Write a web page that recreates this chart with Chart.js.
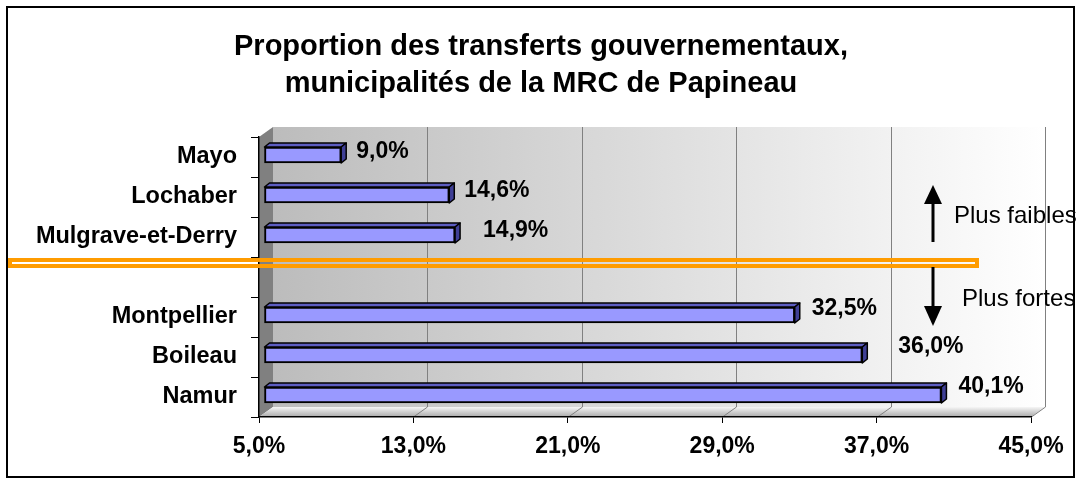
<!DOCTYPE html>
<html>
<head>
<meta charset="utf-8">
<script src="https://cdn.jsdelivr.net/npm/chart.js@4.4.1/dist/chart.umd.min.js"></script>
<style>
  html, body { margin: 0; padding: 0; background: #fff; }
</style>
</head>
<body>
<canvas id="chart" width="1081" height="483"></canvas>
<script>
const categories = ['Mayo', 'Lochaber', 'Mulgrave-et-Derry', '', 'Montpellier', 'Boileau', 'Namur'];
const values = [9.0, 14.6, 14.9, null, 32.5, 36.0, 40.1];
const xTicks = [5, 13, 21, 29, 37, 45];
const titleLines = ['Proportion des transferts gouvernementaux,', 'municipalités de la MRC de Papineau'];

const FONT = '"Liberation Sans", Arial, sans-serif';

// fake 3D depth of the walls and of the bars
const WALL_DX = 14, WALL_DY = 10;
const BAR_SHIFT_X = 5, BAR_SHIFT_Y = -2;
const BAR_DX = 5, BAR_DY = 4;

// small nudges so the value labels sit where Excel put them
const labelNudgeX = [0, 0, 13, 0, 2, 21, 2];
const labelNudgeY = [0, -1, -1, 0, -3, -5, -5];

function fmt(v) {
    return v.toFixed(1).replace('.', ',') + '%';
}

const excel3d = {
    id: 'excel3d',
    beforeDraw(chart) {
        const { ctx, chartArea: a, scales: { x } } = chart;
        ctx.save();

        // title
        ctx.fillStyle = '#000';
        ctx.font = 'bold 29px ' + FONT;
        ctx.textAlign = 'center';
        ctx.textBaseline = 'middle';
        ctx.fillText(titleLines[0], 541, 47);
        ctx.fillText(titleLines[1], 541, 84);

        const bl = a.left + WALL_DX, bt = a.top - WALL_DY;
        const br = a.right + WALL_DX, bb = a.bottom - WALL_DY;

        // back wall
        const g = ctx.createLinearGradient(bl, 0, br, 0);
        g.addColorStop(0, '#bcbcbc');
        g.addColorStop(1, '#ffffff');
        ctx.fillStyle = g;
        ctx.fillRect(bl, bt, br - bl, bb - bt);

        // left wall
        ctx.fillStyle = '#808080';
        ctx.beginPath();
        ctx.moveTo(a.left, a.top);
        ctx.lineTo(bl, bt);
        ctx.lineTo(bl, bb);
        ctx.lineTo(a.left, a.bottom);
        ctx.closePath();
        ctx.fill();

        // floor
        const fg = ctx.createLinearGradient(0, bb, 0, a.bottom);
        fg.addColorStop(0, '#f6f6f6');
        fg.addColorStop(1, '#a9a9a9');
        ctx.fillStyle = fg;
        ctx.beginPath();
        ctx.moveTo(a.left, a.bottom);
        ctx.lineTo(bl, bb);
        ctx.lineTo(br, bb);
        ctx.lineTo(a.right, a.bottom);
        ctx.closePath();
        ctx.fill();

        // grid lines on wall + floor
        ctx.strokeStyle = '#808080';
        ctx.lineWidth = 1;
        xTicks.slice(1).forEach(v => {
            const px = Math.round(x.getPixelForValue(v)) + 0.5;
            ctx.beginPath();
            ctx.moveTo(px + WALL_DX, bt);
            ctx.lineTo(px + WALL_DX, bb);
            ctx.lineTo(px, a.bottom);
            ctx.stroke();
        });
        ctx.restore();
    },
    beforeDatasetsDraw(chart) {
        chart.ctx.save();
        chart.ctx.translate(BAR_SHIFT_X, BAR_SHIFT_Y);
    },
    afterDatasetsDraw(chart) {
        const ctx = chart.ctx;
        const meta = chart.getDatasetMeta(0);
        meta.data.forEach((bar, i) => {
            if (values[i] == null) return;
            const { x, y, base, height } = bar.getProps(['x', 'y', 'base', 'height'], true);
            const top = y - height / 2, bottom = y + height / 2;
            ctx.lineWidth = 1.5;
            ctx.strokeStyle = '#000';
            ctx.lineJoin = 'round';
            // top face
            ctx.fillStyle = '#5c5cc0';
            ctx.beginPath();
            ctx.moveTo(base, top);
            ctx.lineTo(base + BAR_DX, top - BAR_DY);
            ctx.lineTo(x + BAR_DX, top - BAR_DY);
            ctx.lineTo(x, top);
            ctx.closePath();
            ctx.fill();
            ctx.stroke();
            // side face
            ctx.fillStyle = '#3f3f96';
            ctx.beginPath();
            ctx.moveTo(x, top);
            ctx.lineTo(x + BAR_DX, top - BAR_DY);
            ctx.lineTo(x + BAR_DX, bottom - BAR_DY);
            ctx.lineTo(x, bottom);
            ctx.closePath();
            ctx.fill();
            ctx.stroke();

            // value label
            ctx.fillStyle = '#000';
            ctx.font = 'bold 23px ' + FONT;
            ctx.textAlign = 'left';
            ctx.textBaseline = 'middle';
            ctx.fillText(fmt(values[i]), x + 15 + labelNudgeX[i], y - 3 + labelNudgeY[i]);
        });
        ctx.restore();
    },
    afterDraw(chart) {
        const ctx = chart.ctx;
        ctx.save();

        // separator line
        ctx.strokeStyle = '#ff9c00';
        ctx.lineWidth = 4;
        ctx.strokeRect(10, 260, 967, 6);

        // arrows
        ctx.fillStyle = '#000';
        ctx.strokeStyle = '#000';
        ctx.lineWidth = 3;
        ctx.beginPath();
        ctx.moveTo(933, 242);
        ctx.lineTo(933, 200);
        ctx.moveTo(933, 267);
        ctx.lineTo(933, 310);
        ctx.stroke();
        ctx.beginPath();
        ctx.moveTo(924, 204);
        ctx.lineTo(942, 204);
        ctx.lineTo(933, 185);
        ctx.closePath();
        ctx.fill();
        ctx.beginPath();
        ctx.moveTo(924, 306);
        ctx.lineTo(942, 306);
        ctx.lineTo(933, 326);
        ctx.closePath();
        ctx.fill();

        ctx.font = '24px ' + FONT;
        ctx.textAlign = 'left';
        ctx.textBaseline = 'middle';
        ctx.fillText('Plus faibles', 954, 216);
        ctx.fillText('Plus fortes', 962, 299);

        // frame
        ctx.strokeStyle = '#000';
        ctx.lineWidth = 2;
        ctx.strokeRect(7, 7, 1067, 470);
        ctx.restore();
    }
};

new Chart(document.getElementById('chart'), {
    type: 'bar',
    data: {
        labels: categories,
        datasets: [{
            data: values,
            base: xTicks[0],
            backgroundColor: '#9999ff',
            borderColor: '#000',
            borderWidth: 2,
            borderSkipped: false,
            barThickness: 16
        }]
    },
    options: {
        indexAxis: 'y',
        responsive: false,
        animation: false,
        layout: { padding: { top: 137, right: 50, bottom: 0, left: 0 } },
        plugins: {
            legend: { display: false },
            title: { display: false },
            tooltip: { enabled: false }
        },
        scales: {
            x: {
                min: 5,
                max: 45,
                afterFit: s => { s.height = 66; },
                ticks: {
                    stepSize: 8,
                    autoSkip: false,
                    maxRotation: 0,
                    callback: v => fmt(v),
                    color: '#000',
                    padding: 10,
                    font: { family: FONT, size: 23, weight: 'bold' }
                },
                grid: { drawOnChartArea: false, tickLength: 6, color: '#000' },
                border: { color: '#000', width: 1.5 }
            },
            y: {
                afterFit: s => { s.width = 259; },
                ticks: {
                    color: '#000',
                    padding: 14,
                    font: { family: FONT, size: 23.5, weight: 'bold' }
                },
                grid: { drawOnChartArea: false, tickLength: 8, color: '#000', offset: true },
                border: { color: '#000', width: 1.5 }
            }
        }
    },
    plugins: [excel3d]
});
</script>
</body>
</html>
